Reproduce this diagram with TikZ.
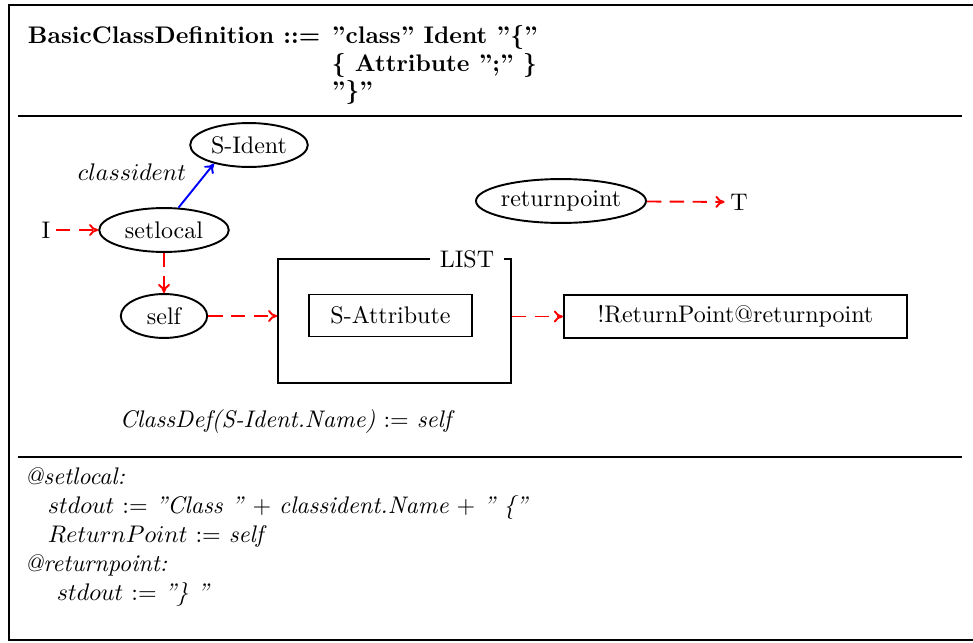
\documentclass[tikz,border=0pt]{standalone}
\usepackage{tikz}
\usetikzlibrary{arrows.meta,positioning,shapes.geometric}

\begin{document}
\begin{tikzpicture}[x=0.4167pt, y=-0.4167pt, thick,
  state/.style={ellipse,draw,inner sep=0pt,minimum height=18.3pt},
  box/.style={rectangle,draw,inner sep=0pt,minimum height=17.5pt},
  flow/.style={red,dash pattern=on 6pt off 3.5pt,-{To[length=3.8pt,width=5pt]}},
  attr/.style={blue,-{To[length=3.8pt,width=5pt]}},
  txt/.style={anchor=base west,inner sep=0pt}]
\useasboundingbox (0,0) rectangle (973,643);
\clip (0,0) rectangle (973,643);
\draw[line width=0.9pt] (9,5) rectangle (990,640);
\draw[line width=1pt] (18,116) -- (962,116);
\draw[line width=1pt] (18,457) -- (962,457);
\node[txt] (hdr1) at (27,43) {\textbf{BasicClassDefinition ::=}};
\node[txt] (hdr1b) at (331,43) {\textbf{''class'' Ident ''\{''}};
\node[txt] (hdr2) at (331,71) {\textbf{\{ Attribute '';'' \}}};
\node[txt] (hdr3) at (331,98) {\textbf{''\}''}};
\node[state,minimum width=49pt] (sident) at (249,145) {S-Ident};
\node[state,minimum width=54pt] (setlocal) at (164,230) {setlocal};
\node[state,minimum width=36pt] (self) at (164,316) {self};
\node[state,minimum width=68pt] (retpt) at (561,201) {returnpoint};
\node[inner sep=2pt] (in) at (46,230) {I};
\node[inner sep=2pt] (out) at (739,202) {T};
\node (classlbl) at (132,172) {$classident$};
\node[draw,minimum width=97pt,minimum height=51.7pt] (listbox) at (394.5,321) {};
\node[fill=white,inner xsep=4pt,inner ysep=1pt] (listlabel) at (467,259) {LIST};
\node[box,minimum width=68pt] (sattr) at (390.5,315.5) {S-Attribute};
\node[box,minimum width=143pt,minimum height=18pt] (retbox) at (735.5,316.5) {!ReturnPoint@returnpoint};
\draw[flow] (in) -- (setlocal);
\draw[flow] (setlocal) -- (self);
\draw[attr] (setlocal.57) -- (sident.208);
\draw[flow] (self) -- (self -| listbox.west);
\draw[flow] (listbox.east |- retbox) -- (retbox);
\draw[flow] (retpt) -- (out);
\node[txt] (rule) at (119,427) {\textit{ClassDef(S-Ident.Name)} $:=$ \textit{self}};
\node[txt] (act1) at (24,484) {\textit{@setlocal:}};
\node[txt] (act2) at (47,513) {$stdout$ $:=$ \textit{''Class ''} $+$ \textit{classident.Name} $+$ \textit{'' \{''}};
\node[txt] (act3) at (47,542) {$ReturnPoint$ $:=$ \textit{self}};
\node[txt] (act4) at (24,571) {\textit{@returnpoint:}};
\node[txt] (act5) at (56,600) {$stdout$ $:=$ \textit{''\} ''}};
\end{tikzpicture}
\end{document}
